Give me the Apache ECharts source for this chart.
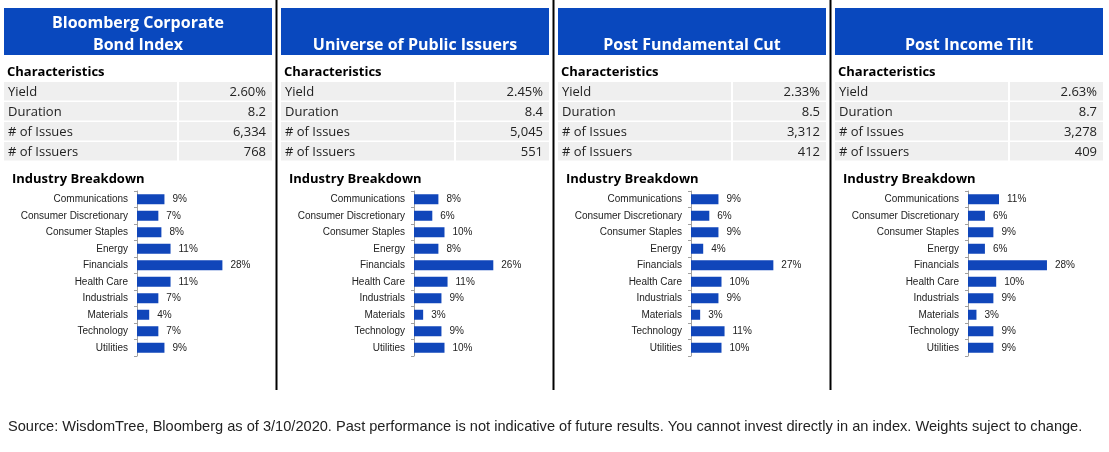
<!DOCTYPE html>
<html>
<head>
<meta charset="utf-8">
<script src="https://cdn.jsdelivr.net/npm/echarts@6/dist/echarts.min.js"></script>
<style>
html,body{margin:0;padding:0;background:#fff;}
#chart{width:1109px;height:452px;}
</style>
</head>
<body>
<div id="chart"></div>
<script>
// ---- data ----
const panelTitles = [['Bloomberg Corporate', 'Bond Index'], ['Universe of Public Issuers'], ['Post Fundamental Cut'], ['Post Income Tilt']];
const charLabels = ['Yield', 'Duration', '# of Issues', '# of Issuers'];
const yieldVals = ['2.60%', '2.45%', '2.33%', '2.63%'];
const durationVals = ['8.2', '8.4', '8.5', '8.7'];
const issuesVals = ['6,334', '5,045', '3,312', '3,278'];
const issuersVals = ['768', '551', '412', '409'];
const industries = ['Communications', 'Consumer Discretionary', 'Consumer Staples', 'Energy', 'Financials', 'Health Care', 'Industrials', 'Materials', 'Technology', 'Utilities'];
const bloombergWeights = [9, 7, 8, 11, 28, 11, 7, 4, 7, 9];
const universeWeights = [8, 6, 10, 8, 26, 11, 9, 3, 9, 10];
const fundamentalWeights = [9, 6, 9, 4, 27, 10, 9, 3, 11, 10];
const incomeWeights = [11, 6, 9, 6, 28, 10, 9, 3, 9, 9];
const footnote = 'Source: WisdomTree, Bloomberg as of 3/10/2020. Past performance is not indicative of future results. You cannot invest directly in an index. Weights suject to change.';

// ---- layout / style ----
const BLUE = '#0948BE';
const BAR = '#1046BA';
const GRAY = '#EFEFEF';
const TXT = '#222222';
const mainFont = '"Open Sans", Lato, sans-serif';
const smallFont = '"Liberation Sans", Arial, sans-serif';
const step = 277;
const weightsAll = [bloombergWeights, universeWeights, fundamentalWeights, incomeWeights];
const valuesAll = [yieldVals, durationVals, issuesVals, issuersVals];

const chart = echarts.init(document.getElementById('chart'), null, {renderer: 'canvas'});

const graphic = [];
for (let p = 0; p < 4; p++) {
  const x0 = 4 + step * p;
  graphic.push({type: 'rect', shape: {x: x0, y: 8, width: 268, height: 47}, style: {fill: BLUE}, silent: true});
  const lines = panelTitles[p];
  lines.forEach((ln, k) => {
    const cy = lines.length === 2 ? (k === 0 ? 23 : 45) : 45;
    graphic.push({type: 'text', x: x0 + 134, y: cy, style: {text: ln, fill: '#fff', font: 'bold 16px ' + mainFont, textAlign: 'center', textVerticalAlign: 'middle'}, silent: true});
  });
  graphic.push({type: 'text', x: x0 + 3, y: 72, style: {text: 'Characteristics', fill: '#000', font: 'bold 13px ' + mainFont, textAlign: 'left', textVerticalAlign: 'middle'}, silent: true});
  for (let r = 0; r < 4; r++) {
    const ry = 82 + 20 * r;
    graphic.push({type: 'rect', shape: {x: x0, y: ry, width: 173, height: 18.5}, style: {fill: GRAY}, silent: true});
    graphic.push({type: 'rect', shape: {x: x0 + 175, y: ry, width: 93, height: 18.5}, style: {fill: GRAY}, silent: true});
    graphic.push({type: 'text', x: x0 + 4, y: ry + 10.5, style: {text: charLabels[r], fill: TXT, font: '13px ' + mainFont, textAlign: 'left', textVerticalAlign: 'middle'}, silent: true});
    graphic.push({type: 'text', x: x0 + 262, y: ry + 10.5, style: {text: valuesAll[r][p], fill: TXT, font: '13px ' + mainFont, textAlign: 'right', textVerticalAlign: 'middle'}, silent: true});
  }
  graphic.push({type: 'text', x: x0 + 8, y: 179, style: {text: 'Industry Breakdown', fill: '#000', font: 'bold 13px ' + mainFont, textAlign: 'left', textVerticalAlign: 'middle'}, silent: true});
  if (p > 0) {
    graphic.push({type: 'line', shape: {x1: 276.5 + step * (p - 1), y1: 0, x2: 276.5 + step * (p - 1), y2: 390}, style: {stroke: '#000', lineWidth: 2}, silent: true});
  }
}
graphic.push({type: 'text', x: 8, y: 427, style: {text: footnote, fill: TXT, font: '14.6px ' + smallFont, textAlign: 'left', textVerticalAlign: 'middle'}, silent: true});

const grids = [], xAxes = [], yAxes = [], series = [];
for (let p = 0; p < 4; p++) {
  grids.push({left: 137 + step * p, top: 191, width: 152.5, height: 165});
  xAxes.push({type: 'value', gridIndex: p, min: 0, max: 50, show: false, splitLine: {show: false}});
  yAxes.push({
    type: 'category', gridIndex: p, data: industries, inverse: true,
    axisLine: {show: true, lineStyle: {color: '#a0a0a0', width: 1}},
    axisTick: {show: true, length: 3, lineStyle: {color: '#a0a0a0'}},
    axisLabel: {fontSize: 10, fontFamily: smallFont, color: TXT, margin: 9}
  });
  series.push({
    type: 'bar', xAxisIndex: p, yAxisIndex: p, data: weightsAll[p], barWidth: 10,
    itemStyle: {color: BAR},
    label: {show: true, position: 'right', distance: 8, formatter: '{c}%', fontSize: 10, fontFamily: smallFont, color: TXT},
    silent: true, animation: false
  });
}

chart.setOption({
  animation: false,
  backgroundColor: '#fff',
  grid: grids, xAxis: xAxes, yAxis: yAxes, series: series,
  graphic: graphic
});
</script>
</body>
</html>
